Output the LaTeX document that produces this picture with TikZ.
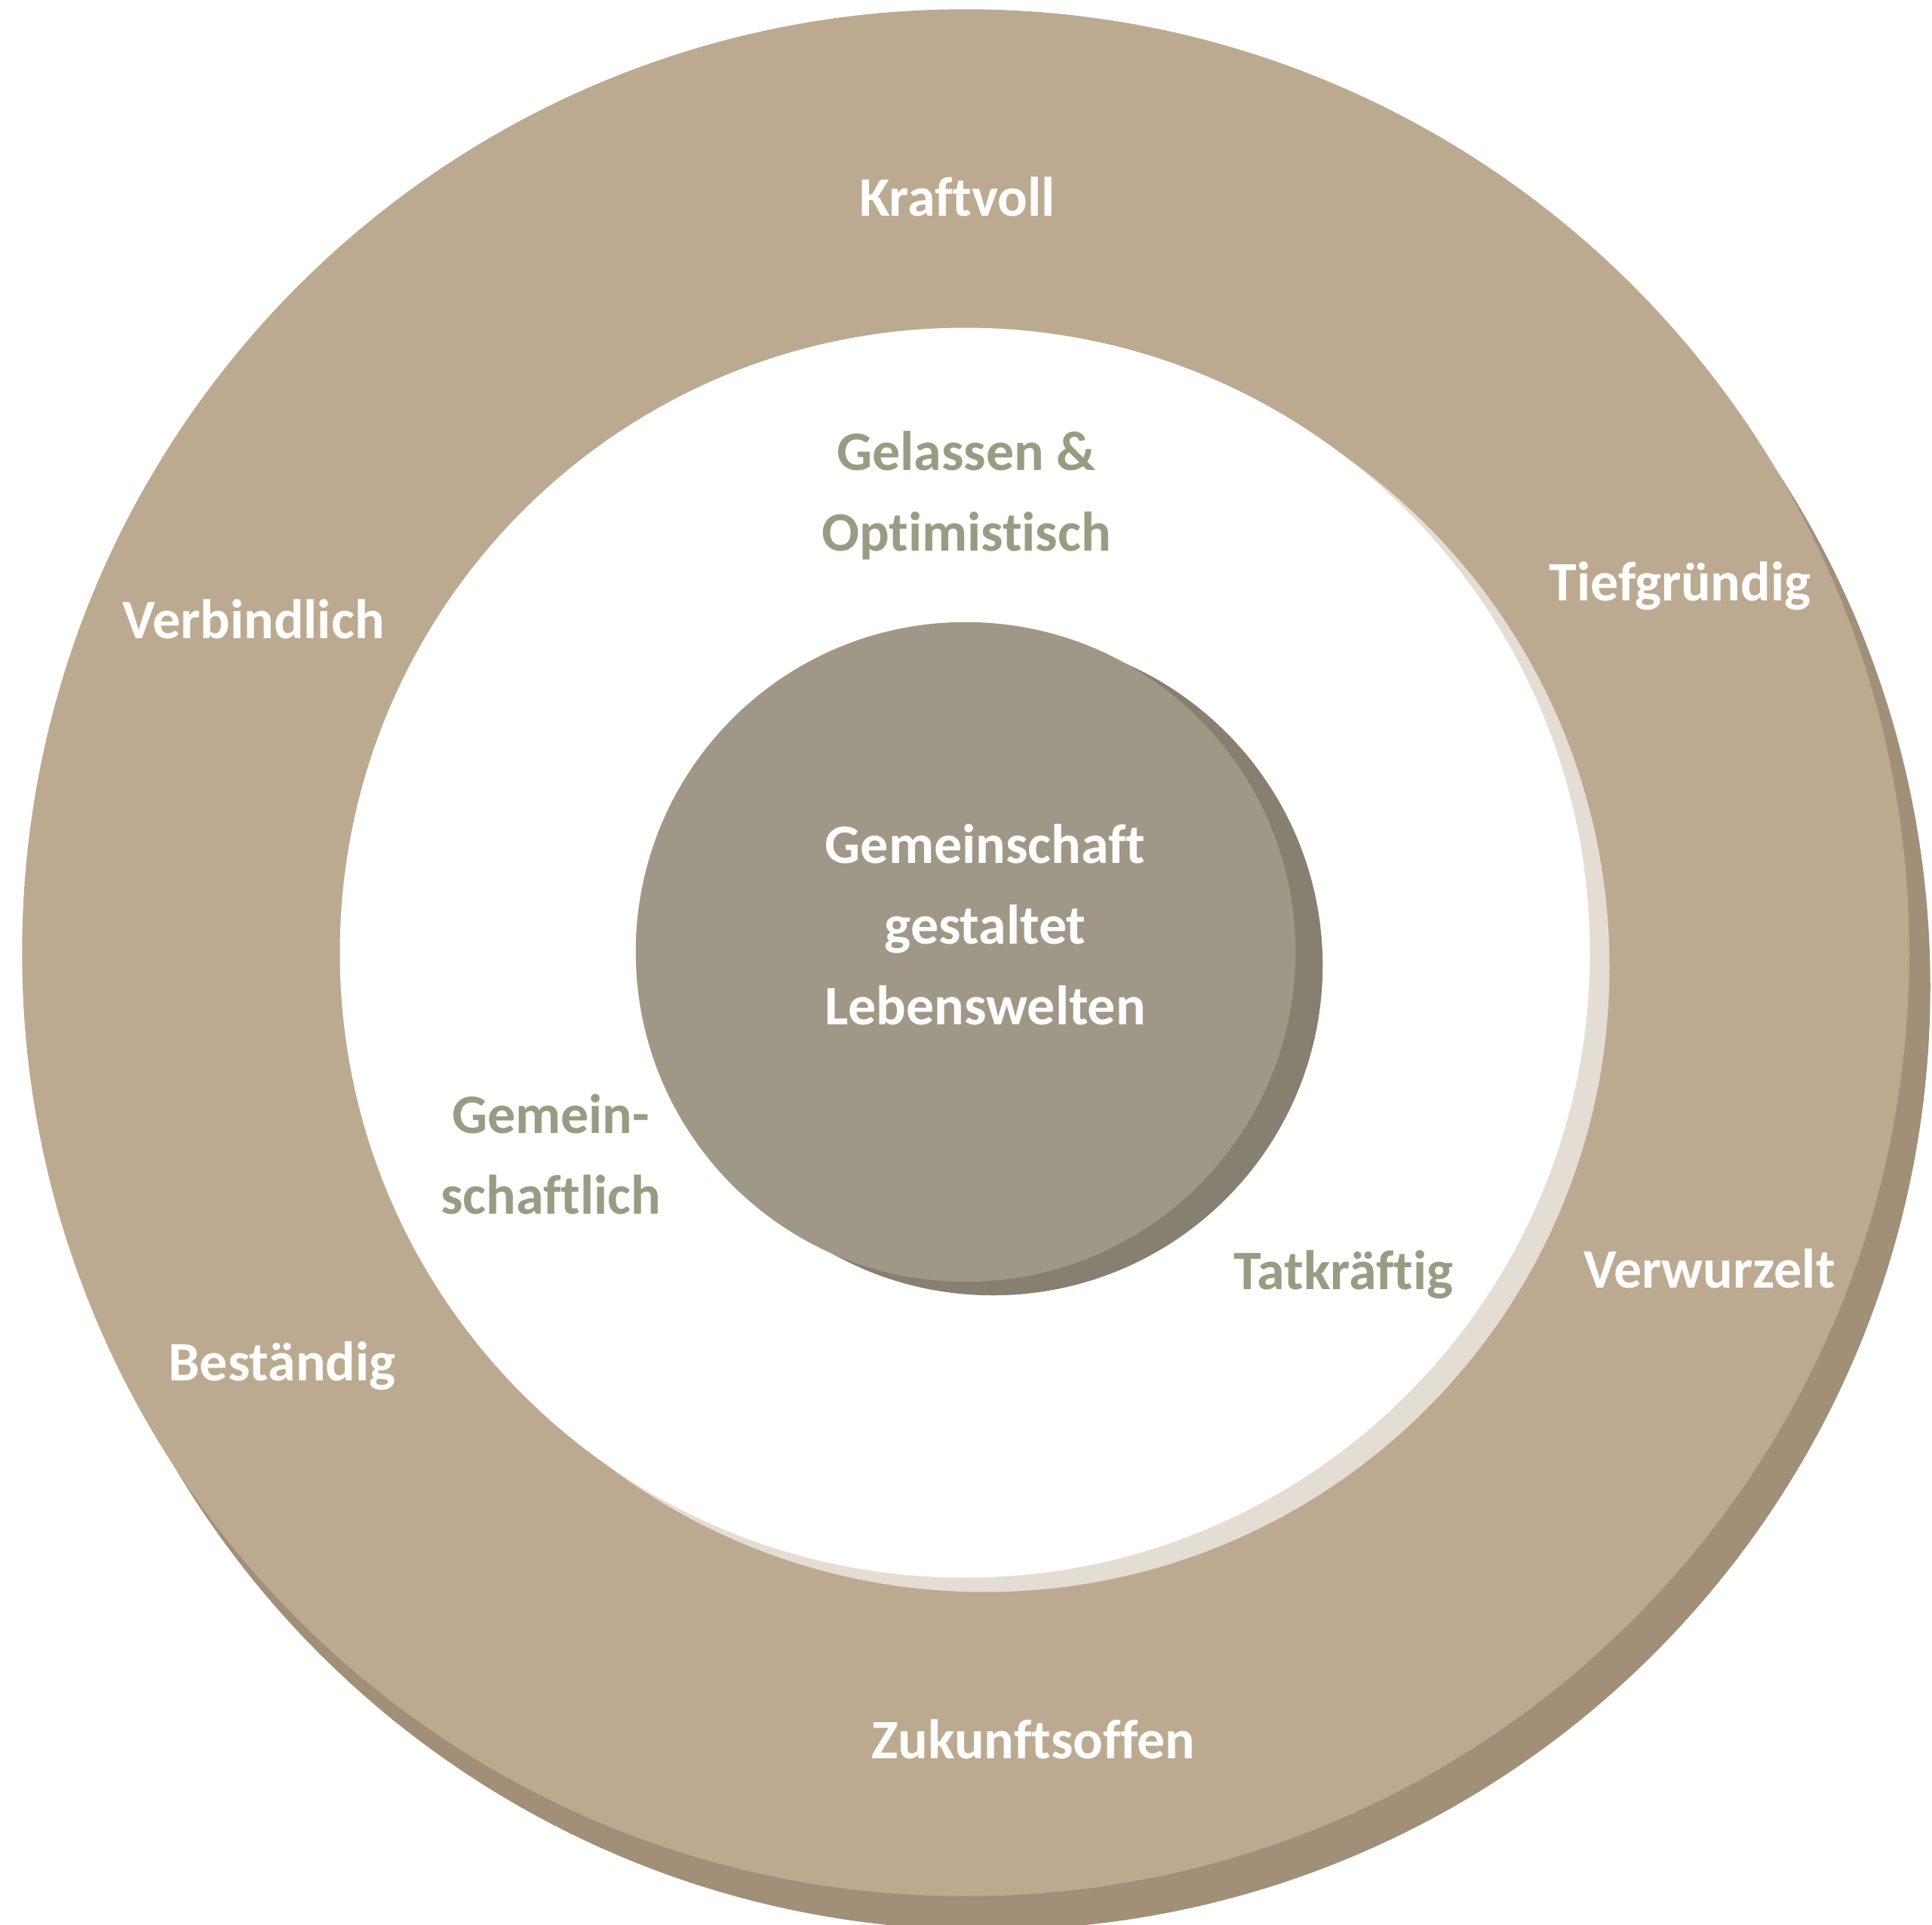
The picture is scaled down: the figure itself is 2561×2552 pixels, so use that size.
\documentclass[tikz,border=0pt]{standalone}
\usepackage{fontspec}
\setmainfont{Carlito}[Ligatures={NoCommon}]
\definecolor{ringfill}{HTML}{BCAA90}
\definecolor{ringshade}{HTML}{A28F78}
\definecolor{discshade}{HTML}{E4DDD3}
\definecolor{corefill}{HTML}{A09886}
\definecolor{coreshade}{HTML}{877F70}
\definecolor{olivetext}{HTML}{999C82}
\newcommand\labelfont{\fontsize{21pt}{30.4pt}\selectfont\bfseries}
% multi-line labels are anchored at the baseline of their last line
\tikzset{
  ringlabel/.style={text=white, font=\labelfont, anchor=base, inner sep=0pt},
  disclabel/.style={text=olivetext, font=\labelfont, anchor=base, align=center, inner sep=0pt},
  corelabel/.style={text=white, font=\labelfont, anchor=base, align=center, inner sep=0pt},
}
\begin{document}
\begin{tikzpicture}[x=0.01cm, y=-0.01cm]
  \clip (0,0) rectangle (2561,2552);
  \fill[white] (0,0) rectangle (2561,2552);
  % outer ring with its drop shadow
  \fill[ringshade] (1308,1308) circle [radius=12.50cm];
  \fill[ringfill] (1280,1263) circle [radius=12.50cm];
  % white disc with a pale shadow
  \fill[discshade] (1305,1282) circle [radius=8.28cm];
  \fill[white] (1279,1263) circle [radius=8.28cm];
  % core circle with its shadow
  \fill[coreshade] (1316,1280) circle [radius=4.37cm];
  \fill[corefill] (1280,1262) circle [radius=4.37cm];

  % words on the ring
  \node[ringlabel] (kraft) at (1269,287) {Kraftvoll};
  \node[ringlabel] (tief) at (2227,796) {Tiefgründig};
  \node[ringlabel] (verb) at (336,846) {Verbindlich};
  \node[ringlabel] (verw) at (2266,1707) {Verwurzelt};
  \node[ringlabel] (best) at (374,1830) {Beständig};
  \node[ringlabel] (zuk) at (1370,2331) {Zukunftsoffen};

  % words on the white disc
  \node[disclabel] (gel) at (1281,730) {Gelassen \&\\Optimistisch};
  \node[disclabel] (gem) at (730,1609) {Gemein-\\schaftlich};
  \node[disclabel] (tat) at (1781,1709) {Tatkräftig};

  % centre text
  \node[corelabel] (core) at (1306,1358) {Gemeinschaft\\gestaltet\\Lebenswelten};
\end{tikzpicture}
\end{document}
